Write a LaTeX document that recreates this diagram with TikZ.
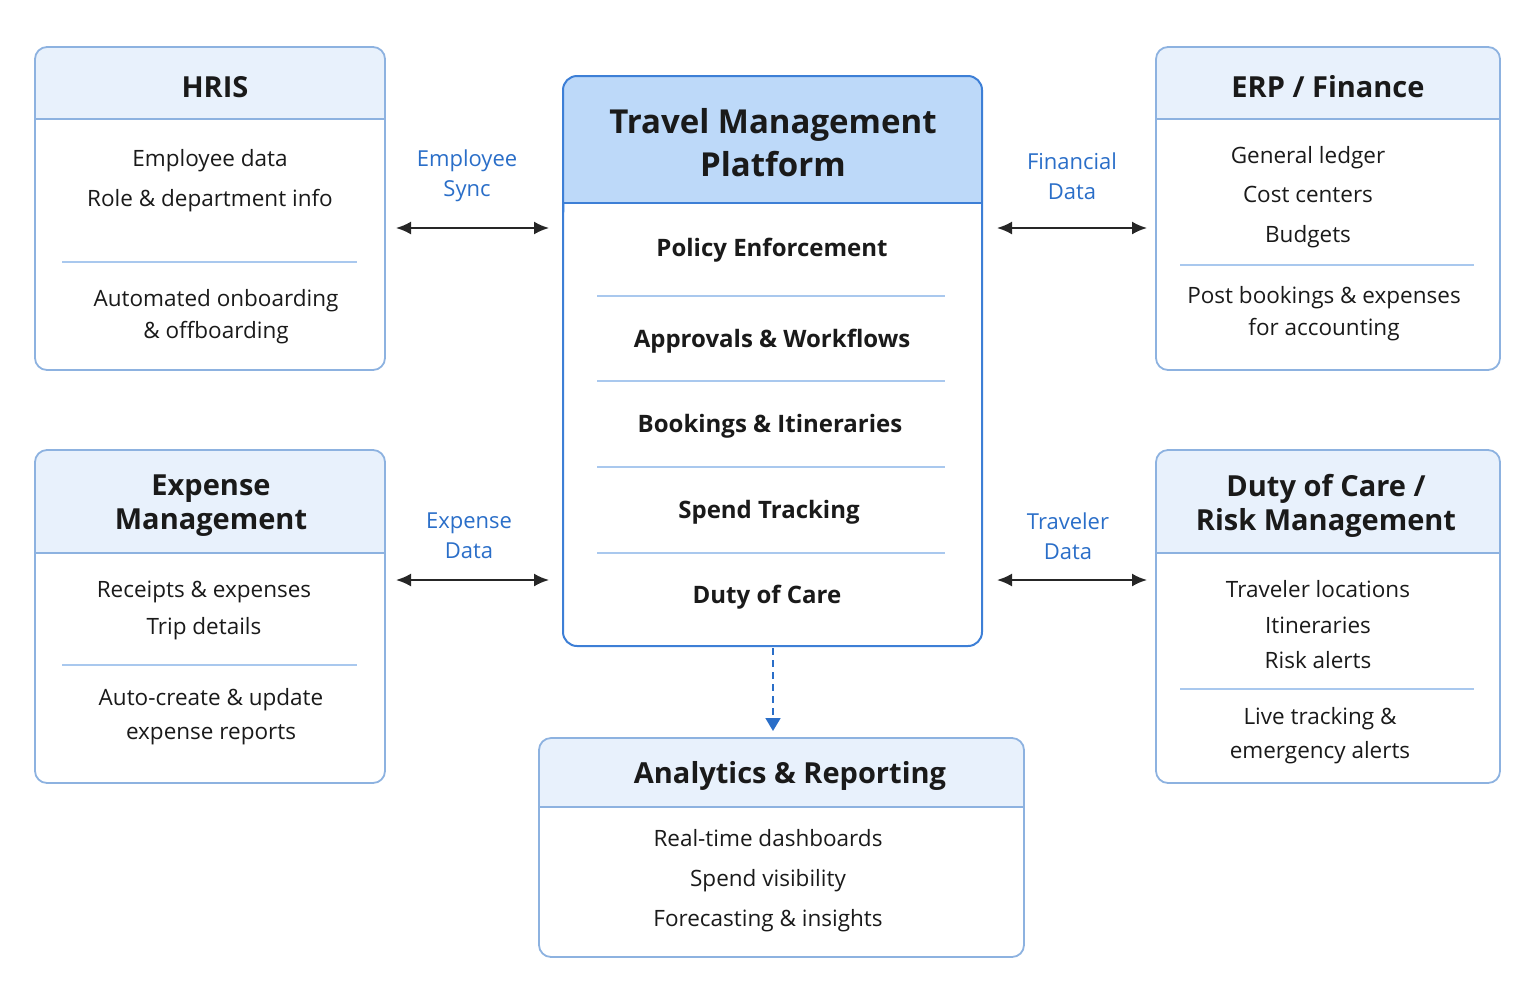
\documentclass[tikz,border=0pt]{standalone}
\usepackage{fontspec}
\setmainfont{Open Sans}
\usetikzlibrary{arrows.meta}
\definecolor{bord}{HTML}{8DB2E0}
\definecolor{hdr}{HTML}{E8F1FC}
\definecolor{mhdr}{HTML}{BDD9F9}
\definecolor{mbord}{HTML}{3D7FD6}
\definecolor{lbl}{HTML}{2A6EC8}
\definecolor{dv}{HTML}{A9C8EE}
\definecolor{txt}{HTML}{1A1A1A}
\tikzset{
 x=1pt,y=-1pt,
 ttl/.style={font=\fontsize{29}{34}\selectfont\bfseries, text=txt, align=center},
 body/.style={font=\fontsize{22.5}{32}\selectfont, text=txt, align=center},
 mbody/.style={font=\fontsize{24}{30}\selectfont\bfseries, text=txt, align=center},
 lab/.style={font=\fontsize{22}{30}\selectfont, text=lbl, align=center},
 dline/.style={dv, line width=1.2pt},
 biarrow/.style={{Latex[length=15pt,width=13pt]}-{Latex[length=15pt,width=13pt]}, line width=2pt, black!85},
}
\newcommand{\panel}[6]{% x1 y1 x2 y2 yh color
 \fill[hdr, rounded corners=12pt] (#1,#2) rectangle (#3,#5+12);
 \fill[hdr] (#1+1,#5-14) rectangle (#3-1,#5);
 \fill[white] (#1+1,#5) rectangle (#3-1,#4-14);
 \draw[#6, line width=1.6pt] (#1,#5) -- (#3,#5);
 \draw[#6, line width=1.8pt, rounded corners=12pt] (#1,#2) rectangle (#3,#4);
}
\begin{document}
\begin{tikzpicture}
\useasboundingbox (0,0) rectangle (1536,1005);
% HRIS
\panel{35}{47}{385}{370}{119}{bord}
\node[ttl] (hris) at (215,87) {HRIS};
\node[body, font=\fontsize{22.5}{40}\selectfont] (hris1) at (210,181) {Employee data\\Role \& department info};
\draw[dline] (62,262) -- (357,262);
\node[body] (hris2) at (216,317) {Automated onboarding\\\& offboarding};
% ERP
\panel{1156}{47}{1500}{370}{119}{bord}
\node[ttl] (erp) at (1328,87) {ERP / Finance};
\node[body, font=\fontsize{22.5}{39.5}\selectfont] (erp1) at (1308,197) {General ledger\\Cost centers\\Budgets};
\draw[dline] (1180,265) -- (1474,265);
\node[body] (erp2) at (1324,314) {Post bookings \& expenses\\for accounting};
% Expense
\panel{35}{450}{385}{783}{553}{bord}
\node[ttl] (exp) at (211,506) {Expense\\Management};
\node[body, font=\fontsize{22.5}{37}\selectfont] (exp1) at (204,610) {Receipts \& expenses\\Trip details};
\draw[dline] (62,665) -- (357,665);
\node[body, font=\fontsize{22.5}{34}\selectfont] (exp2) at (211,717) {Auto-create \& update\\expense reports};
% Duty
\panel{1156}{450}{1500}{783}{553}{bord}
\node[ttl] (duty) at (1326,506) {Duty of Care /\\Risk Management};
\node[body, font=\fontsize{22.5}{35.5}\selectfont] (duty1) at (1318,625) {Traveler locations\\Itineraries\\Risk alerts};
\draw[dline] (1180,689) -- (1474,689);
\node[body, font=\fontsize{22.5}{34}\selectfont] (duty2) at (1320,736) {Live tracking \&\\emergency alerts};
% Analytics
\panel{539}{738}{1024}{957}{807}{bord}
\node[ttl] (ana) at (790,776) {Analytics \& Reporting};
\node[body, font=\fontsize{22.5}{40}\selectfont] (ana1) at (768,881) {Real-time dashboards\\Spend visibility\\Forecasting \& insights};
% TMP
\fill[mhdr, rounded corners=14pt] (563,76) rectangle (982,220);
\fill[white] (564.5,203) rectangle (980.5,632);
\draw[mbord, line width=1.6pt] (563,203) -- (982,203);
\draw[mbord, line width=2pt, rounded corners=14pt] (563,76) rectangle (982,646);
\node[ttl, font=\fontsize{33}{43}\selectfont\bfseries] (tmp) at (773,143) {Travel Management\\Platform};
\node[mbody] (p1) at (772,250) {Policy Enforcement};
\draw[dline] (597,296) -- (945,296);
\node[mbody] (p2) at (772,341) {Approvals \& Workflows};
\draw[dline] (597,381) -- (945,381);
\node[mbody] (p3) at (770,426) {Bookings \& Itineraries};
\draw[dline] (597,467) -- (945,467);
\node[mbody] (p4) at (769,512) {Spend Tracking};
\draw[dline] (597,553) -- (945,553);
\node[mbody] (p5) at (767,597) {Duty of Care};
% connectors
\coordinate (a1) at (396,228); \coordinate (b1) at (549,228);
\coordinate (a2) at (997,228); \coordinate (b2) at (1147,228);
\coordinate (a3) at (396,580); \coordinate (b3) at (549,580);
\coordinate (a4) at (997,580); \coordinate (b4) at (1147,580);
\draw[biarrow] (a1) -- (b1);
\draw[biarrow] (a2) -- (b2);
\draw[biarrow] (a3) -- (b3);
\draw[biarrow] (a4) -- (b4);
\node[lab] (l1) at (467,176) {Employee\\Sync};
\node[lab] (l2) at (1072,176) {Financial\\Data};
\node[lab] (l3) at (469,536) {Expense\\Data};
\node[lab] (l4) at (1068,536) {Traveler\\Data};
\coordinate (d1) at (773,648); \coordinate (d2) at (773,731);
\draw[lbl, line width=1.8pt, dash pattern=on 7pt off 5pt, -{Triangle[length=13pt,width=15pt]}] (d1) -- (d2);
\end{tikzpicture}
\end{document}
